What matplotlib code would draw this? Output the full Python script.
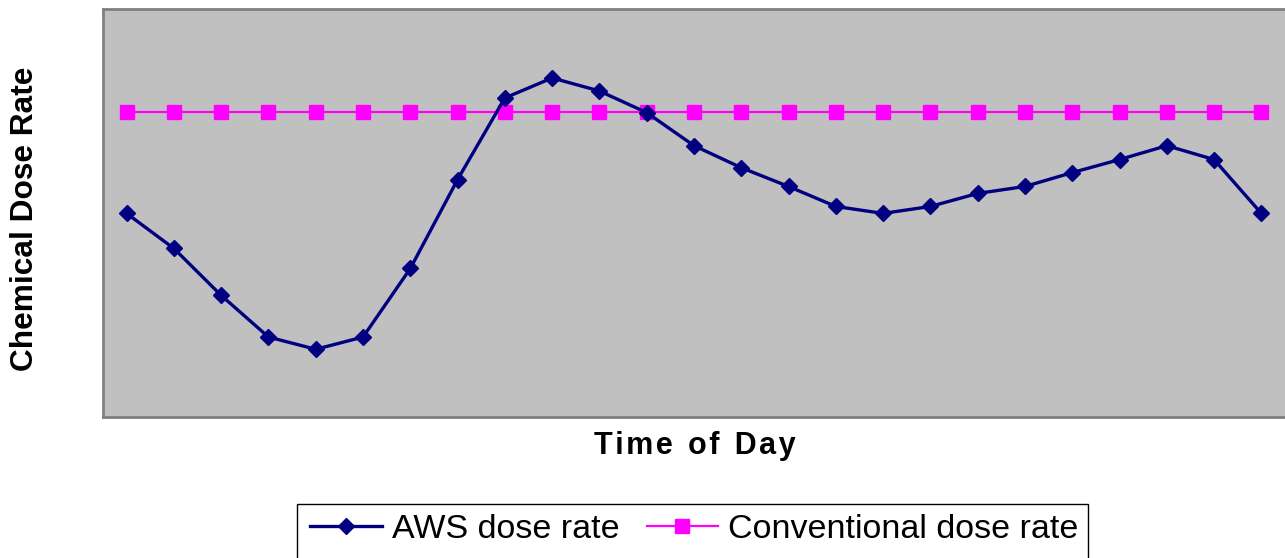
import numpy as np
import matplotlib
matplotlib.use("Agg")
import matplotlib.pyplot as plt
from matplotlib.patches import Rectangle

plt.rcParams['font.family'] = ['Liberation Sans', 'DejaVu Sans']

# hourly samples over a day (no tick labels in the original)
hours = np.arange(25)
aws_dose = [49.9, 41.3, 29.8, 19.6, 16.6, 19.6, 36.4, 58.2, 78.2, 83.1, 79.9, 74.6,
            66.5, 61.1, 56.5, 51.6, 49.9, 51.6, 54.8, 56.5, 59.9, 63.1, 66.5, 63.1, 49.9]
conv_dose = [74.8] * 25

fig = plt.figure(figsize=(12.85, 5.58), dpi=100)
ax = fig.add_axes([103 / 1285, 1 - 417 / 558, 1 - 103 / 1285, (417 - 9) / 558])
ax.set_facecolor('#C0C0C0')

l1, = ax.plot(hours, aws_dose, color='#000080', lw=2.4, marker='D', ms=8.5,
              label='AWS dose rate', zorder=3)
l2, = ax.plot(hours, conv_dose, color='#FF00FF', lw=1.6, marker='s', ms=10,
              label='Conventional dose rate', zorder=2)

ax.set_xlim(-0.5, 24.5)
ax.set_ylim(0, 100)
ax.set_xticks([])
ax.set_yticks([])
for side in ['left', 'top', 'bottom']:
    ax.spines[side].set_color('#808080')
    ax.spines[side].set_linewidth(2)
ax.spines['right'].set_visible(False)

fig.text(695 / 1285, 1 - 446 / 558, 'T i m e  o f  D a y'.replace('  ', '\u2002').replace(' ', '\u200a'),
         ha='center', va='center', fontsize=22, fontweight='bold')
fig.text(25 / 1285, 1 - 219 / 558, 'Chemical Dose Rate', rotation=90,
         ha='center', va='center', fontsize=22.8, fontweight='bold')

# legend box runs off the bottom edge in the original
fig.patches.append(Rectangle((297 / 1285, -0.02), (1088 - 297) / 1285, 0.02 + 1 - 504 / 558,
                             transform=fig.transFigure, facecolor='white',
                             edgecolor='black', lw=1))
leg = fig.legend(handles=[l1, l2], loc='upper left',
                 bbox_to_anchor=(300 / 1285, 1 - 504 / 558), ncol=2,
                 fontsize=24.5, frameon=False, borderpad=0.3,
                 handlelength=2.1, handletextpad=0.3, columnspacing=0.8,
                 borderaxespad=0)

fig.savefig('out.png', dpi=100)
